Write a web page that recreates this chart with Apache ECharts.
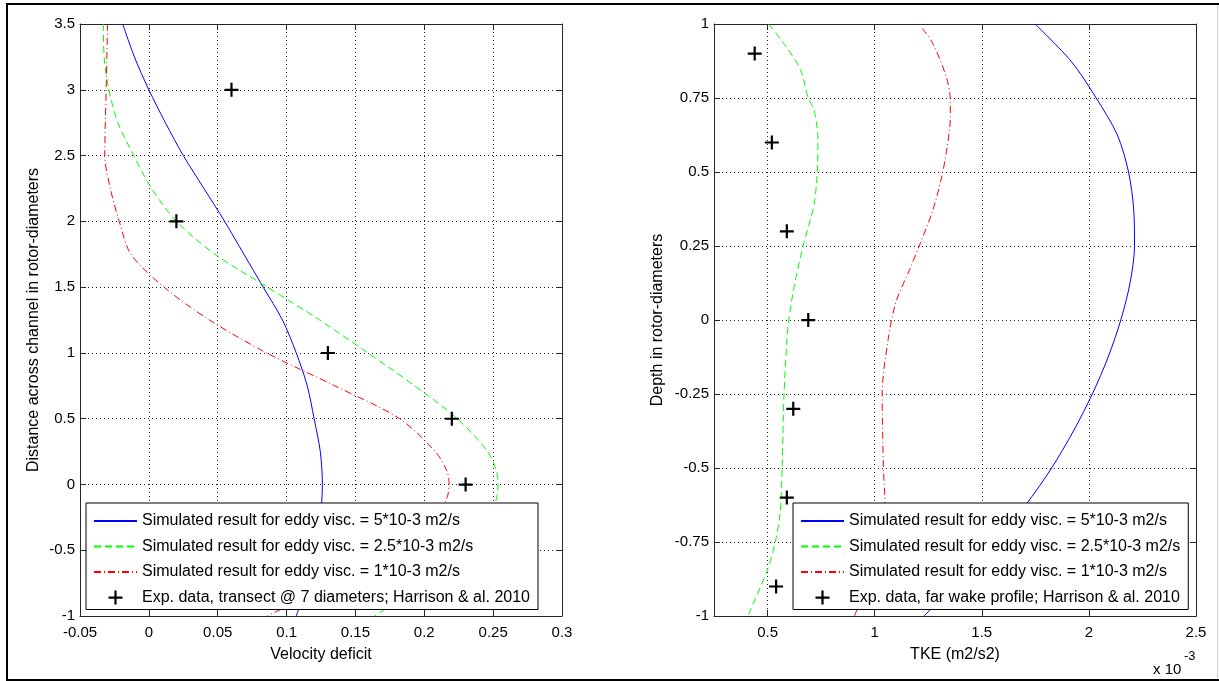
<!DOCTYPE html>
<html><head><meta charset="utf-8">
<script src="https://cdn.jsdelivr.net/npm/echarts@6/dist/echarts.min.js"></script>
<style>html,body{margin:0;padding:0;background:#fff}#c{width:1219px;height:681px}</style>
</head><body><div id="c"></div>
<script>
// ---- names ----
const nameVisc5 = 'Simulated result for eddy visc. = 5*10-3 m2/s';
const nameVisc25 = 'Simulated result for eddy visc. = 2.5*10-3 m2/s';
const nameVisc1 = 'Simulated result for eddy visc. = 1*10-3 m2/s';
const nameExpLeft = 'Exp. data, transect @ 7 diameters; Harrison & al. 2010';
const nameExpRight = 'Exp. data, far wake profile; Harrison & al. 2010';

// ---- left panel: velocity deficit vs distance across channel ----
const leftBlueDist = [3.5, 3.25, 3.0, 2.75, 2.5, 2.25, 2.0, 1.75, 1.5, 1.25, 1.0, 0.75, 0.5, 0.25, 0, -0.25, -0.5, -0.75, -1.0];
const leftBlueDef  = [-0.019, -0.0105, 0.000, 0.012, 0.025, 0.040, 0.055, 0.069, 0.083, 0.097, 0.107, 0.115, 0.120, 0.1245, 0.126, 0.1245, 0.120, 0.115, 0.107];

const leftGreenDist = [3.5, 3.25, 3.0, 2.75, 2.5, 2.25, 2.0, 1.75, 1.5, 1.25, 1.0, 0.75, 0.5, 0.25, 0.1, 0, -0.1, -0.25, -0.5, -0.75, -1.0];
const leftGreenDef  = [-0.033, -0.0325, -0.029, -0.0225, -0.011, 0.002, 0.020, 0.048, 0.086, 0.124, 0.159, 0.193, 0.224, 0.246, 0.2525, 0.2535, 0.2525, 0.248, 0.230, 0.200, 0.164];

const leftRedDist = [3.5, 3.0, 2.5, 2.25, 2.0, 1.75, 1.5, 1.25, 1.0, 0.75, 0.5, 0.25, 0.1, 0, -0.1, -0.25, -0.5, -0.75, -1.0];
const leftRedDef  = [-0.030, -0.031, -0.032, -0.028, -0.0215, -0.013, 0.011, 0.044, 0.0855, 0.135, 0.182, 0.208, 0.2165, 0.218, 0.2165, 0.208, 0.182, 0.134, 0.086];

const leftExpDist = [3, 2, 1, 0.5, 0];
const leftExpDef  = [0.06, 0.02, 0.13, 0.22, 0.23];

// ---- right panel: TKE (x 10^-3 m2/s2) vs depth ----
const rightBlueDepth = [1.0, 0.875, 0.75, 0.625, 0.5, 0.375, 0.25, 0.125, 0, -0.125, -0.25, -0.375, -0.5, -0.625, -0.75, -0.875, -1.0];
const rightBlueTke   = [1.749, 1.916, 2.034, 2.133, 2.185, 2.209, 2.213, 2.192, 2.149, 2.09, 2.016, 1.928, 1.826, 1.705, 1.565, 1.405, 1.23];

const rightGreenDepth = [1.0, 0.92, 0.845, 0.75, 0.71, 0.61, 0.5, 0.39, 0.25, 0.12, 0, -0.07, -0.25, -0.5, -0.65, -0.75, -0.845, -0.985, -1.0];
const rightGreenTke   = [0.505, 0.59, 0.654, 0.69, 0.717, 0.735, 0.732, 0.717, 0.666, 0.626, 0.599, 0.59, 0.577, 0.568, 0.559, 0.536, 0.499, 0.417, 0.41];

const rightRedDepth = [0.985, 0.935, 0.82, 0.74, 0.68, 0.57, 0.48, 0.37, 0.25, 0.17, 0.06, -0.07, -0.25, -0.5, -0.62, -0.75, -0.875, -1.0];
const rightRedTke   = [1.222, 1.271, 1.335, 1.353, 1.353, 1.335, 1.312, 1.271, 1.208, 1.163, 1.099, 1.062, 1.035, 1.041, 1.048, 1.025, 0.975, 0.905];

const rightExpDepth = [0.9, 0.6, 0.3, 0, -0.3, -0.6, -0.9];
const rightExpTke   = [0.44, 0.52, 0.59, 0.69, 0.62, 0.59, 0.54];

// ---- tick labels ----
const leftXTicks = { min: -0.05, max: 0.3, interval: 0.05 };
const leftYTicks = { min: -1, max: 3.5, interval: 0.5 };
const rightXTickValues = [0.5, 1, 1.5, 2, 2.5];
const rightYTicks = { min: -1, max: 1, interval: 0.25 };

const FONT = 'Liberation Sans';
const zip = (xs, ys) => xs.map((x, i) => [x, ys[i]]);
const PLUS = 'path://M0,6h14v2.2h-14z M5.9,0h2.2v14h-2.2z';

const axisLineStyle = { show: true, onZero: false, lineStyle: { color: '#262626', width: 1 } };
const tickStyle = { show: true, inside: true, length: 6, lineStyle: { color: '#262626', width: 1 } };
const splitStyle = { show: true, lineStyle: { color: '#222', width: 1, type: [1, 3] } };
const labelStyle = { fontFamily: FONT, fontSize: 15, color: '#000' };
const nameStyle = { fontFamily: FONT, fontSize: 16, color: '#000' };

function mainX(grid, range, extra) {
  return Object.assign({
    type: 'value', gridIndex: grid, position: 'bottom',
    min: range.min, max: range.max,
    axisLine: axisLineStyle, axisTick: tickStyle, splitLine: splitStyle,
    axisLabel: Object.assign({ margin: 9 }, labelStyle),
    nameLocation: 'middle', nameGap: 31, nameTextStyle: nameStyle, nameMoveOverlap: false
  }, extra);
}
function mirror(grid, pos, range, extra) {
  return Object.assign({
    type: 'value', gridIndex: grid, position: pos,
    min: range.min, max: range.max,
    axisLine: axisLineStyle, axisTick: tickStyle,
    splitLine: { show: false }, axisLabel: { show: false }
  }, extra);
}
const hiddenSym = { opacity: 0, color: 'rgba(0,0,0,0)', borderWidth: 0 };
function legendData(expName) {
  return [
    { name: nameVisc5, itemStyle: hiddenSym },
    { name: nameVisc25, itemStyle: hiddenSym },
    { name: nameVisc1, itemStyle: hiddenSym },
    { name: expName }
  ];
}
function legendBox(left, expName) {
  return {
    orient: 'vertical', left: left, top: 503,
    data: legendData(expName),
    itemWidth: 43, itemHeight: 14, itemGap: 9.5, padding: [10, 8, 4, 7],
    borderColor: '#000', borderWidth: 1, borderRadius: 0, backgroundColor: '#fff',
    textStyle: { fontFamily: FONT, fontSize: 16, color: '#000', lineHeight: 16 },
    selectedMode: false, symbolKeepAspect: true
  };
}
function lineSeries(name, xi, yi, data, color, type) {
  return { name: name, type: 'line', xAxisIndex: xi, yAxisIndex: yi, data: data,
    symbol: 'none', smooth: 0.3, color: color,
    lineStyle: { color: color, width: 1, type: type } };
}
function expSeries(name, xi, yi, data) {
  return { name: name, type: 'scatter', xAxisIndex: xi, yAxisIndex: yi, data: data,
    symbol: PLUS, symbolSize: 14, z: 5, itemStyle: { color: '#000', opacity: 1 } };
}

const option = {
  animation: false,
  backgroundColor: '#fff',
  grid: [
    { left: 80, top: 24, width: 482, height: 592, outerBoundsMode: 'none', containLabel: false },
    { left: 714, top: 24, width: 482, height: 592, outerBoundsMode: 'none', containLabel: false }
  ],
  xAxis: [
    mainX(0, leftXTicks, { interval: leftXTicks.interval, name: 'Velocity deficit' }),
    mirror(0, 'top', leftXTicks, { interval: leftXTicks.interval }),
    mainX(1, { min: 0.25, max: 2.5 }, {
      name: 'TKE (m2/s2)',
      axisTick: Object.assign({}, tickStyle, { customValues: rightXTickValues }),
      axisLabel: Object.assign({ margin: 9, customValues: rightXTickValues }, labelStyle)
    }),
    mirror(1, 'top', { min: 0.25, max: 2.5 }, {
      axisTick: Object.assign({}, tickStyle, { customValues: rightXTickValues })
    })
  ],
  yAxis: [
    {
      type: 'value', gridIndex: 0, position: 'left',
      min: leftYTicks.min, max: leftYTicks.max, interval: leftYTicks.interval,
      axisLine: axisLineStyle, axisTick: tickStyle, splitLine: splitStyle,
      axisLabel: Object.assign({ margin: 5 }, labelStyle),
      name: 'Distance across channel in rotor-diameters', nameLocation: 'middle', nameGap: 38,
      nameTextStyle: nameStyle, nameMoveOverlap: false
    },
    mirror(0, 'right', leftYTicks, { interval: leftYTicks.interval }),
    {
      type: 'value', gridIndex: 1, position: 'left',
      min: rightYTicks.min, max: rightYTicks.max, interval: rightYTicks.interval,
      axisLine: axisLineStyle, axisTick: tickStyle, splitLine: splitStyle,
      axisLabel: Object.assign({ margin: 5 }, labelStyle),
      name: 'Depth in rotor-diameters', nameLocation: 'middle', nameGap: 48,
      nameTextStyle: nameStyle, nameMoveOverlap: false
    },
    mirror(1, 'right', rightYTicks, { interval: rightYTicks.interval })
  ],
  legend: [ legendBox(86, nameExpLeft), legendBox(793, nameExpRight) ],
  series: [
    lineSeries(nameVisc5, 0, 0, zip(leftBlueDef, leftBlueDist), '#0000ff', 'solid'),
    lineSeries(nameVisc25, 0, 0, zip(leftGreenDef, leftGreenDist), '#00ff00', [7, 4]),
    lineSeries(nameVisc1, 0, 0, zip(leftRedDef, leftRedDist), '#ff0000', [7, 3, 1, 3]),
    expSeries(nameExpLeft, 0, 0, zip(leftExpDef, leftExpDist)),
    lineSeries(nameVisc5, 2, 2, zip(rightBlueTke, rightBlueDepth), '#0000ff', 'solid'),
    lineSeries(nameVisc25, 2, 2, zip(rightGreenTke, rightGreenDepth), '#00ff00', [7, 4]),
    lineSeries(nameVisc1, 2, 2, zip(rightRedTke, rightRedDepth), '#ff0000', [7, 3, 1, 3]),
    expSeries(nameExpRight, 2, 2, zip(rightExpTke, rightExpDepth))
  ],
  graphic: [
    { type: 'rect', shape: { x: 7, y: 4, width: 1260, height: 676 }, style: { fill: 'none', stroke: '#000', lineWidth: 2 }, silent: true },
    { type: 'line', shape: { x1: 1217.5, y1: 5, x2: 1217.5, y2: 679 }, style: { stroke: '#d0d0d0', lineWidth: 1 }, silent: true },
    { type: 'text', left: 1153, top: 662, style: { text: 'x 10', fontFamily: FONT, fontSize: 15, fill: '#000' } },
    { type: 'text', left: 1184, top: 650, style: { text: '-3', fontFamily: FONT, fontSize: 13, fill: '#000' } }
  ]
};

const chart = echarts.init(document.getElementById('c'), null, { renderer: 'canvas' });
chart.setOption(option);
</script></body></html>
